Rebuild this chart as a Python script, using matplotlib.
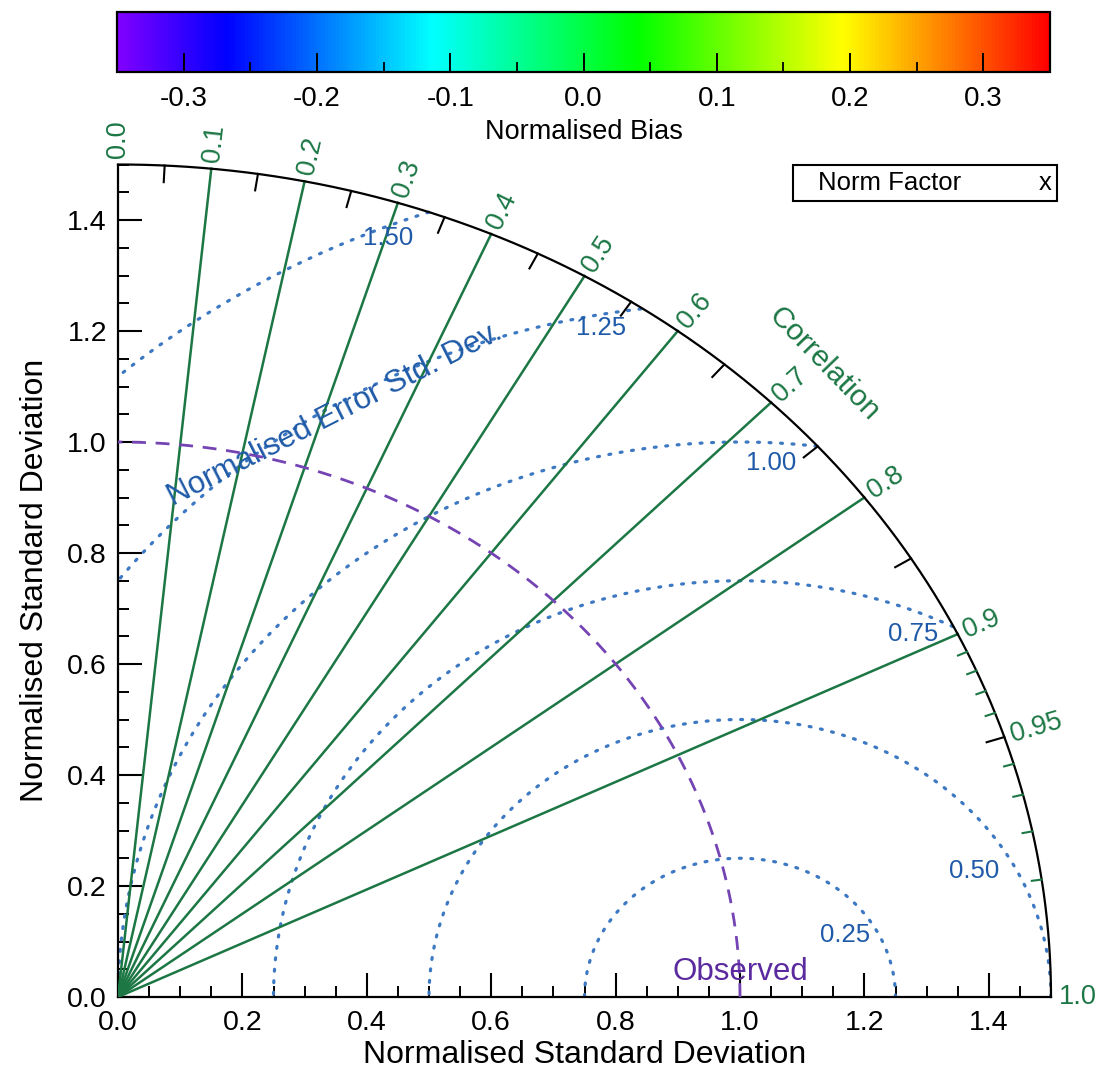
import numpy as np
import matplotlib
import matplotlib.pyplot as plt
from matplotlib.colors import LinearSegmentedColormap, Normalize
from matplotlib.patches import Rectangle
from matplotlib.ticker import MultipleLocator, FormatStrFormatter
import matplotlib.colorbar as mcolorbar

plt.rcParams['font.family'] = ['Liberation Sans', 'DejaVu Sans']

# diagram setup
std_max = 1.5
obs_std = 1.0
corr_lines = [0.1, 0.2, 0.3, 0.4, 0.5, 0.6, 0.7, 0.8, 0.9]
corr_labels = [0.0, 0.1, 0.2, 0.3, 0.4, 0.5, 0.6, 0.7, 0.8, 0.9, 0.95, 1.0]
corr_major_ticks = [0.05, 0.15, 0.25, 0.35, 0.45, 0.55, 0.65, 0.75, 0.85, 0.95]
corr_minor_ticks = [0.91, 0.92, 0.93, 0.94, 0.96, 0.97, 0.98, 0.99]
rms_levels = [0.25, 0.50, 0.75, 1.00, 1.25, 1.50]
rms_label_angles = [33.5, 31, 67, 87, 100.5, 112.5]   # degrees round the observed point
rms_label_insets = [0.047, 0.06, 0.039, 0.036, 0.024, 0.02]
bias_min, bias_max = -0.35, 0.35
bias_ticks = [-0.3, -0.2, -0.1, 0.0, 0.1, 0.2, 0.3]
bias_minor = [-0.25, -0.15, -0.05, 0.05, 0.15, 0.25]

green = '#1c7745'
blue_line = '#3d78c2'
blue_text = '#1f5aa8'
purple = '#7544b4'
purple_text = '#5a2a9e'

fig = plt.figure(figsize=(10.99, 10.81), dpi=100)
W, H = 1099, 1081

# ---- main diagram ----
ax = fig.add_axes([118 / W, 84 / H, 933 / W, 832.5 / H])
ax.set_xlim(0, std_max)
ax.set_ylim(0, std_max)
for s in ['top', 'right']:
    ax.spines[s].set_visible(False)
for s in ['left', 'bottom']:
    ax.spines[s].set_linewidth(1.6)
ax.xaxis.set_minor_locator(MultipleLocator(0.05))
ax.yaxis.set_minor_locator(MultipleLocator(0.05))
ax.xaxis.set_major_formatter(FormatStrFormatter('%.1f'))
ax.yaxis.set_major_formatter(FormatStrFormatter('%.1f'))
ax.tick_params(which='major', direction='in', length=17, width=1.5, labelsize=20.5)
ax.tick_params(which='minor', direction='in', length=8, width=1.4)
ax.tick_params(axis='x', which='major', pad=9)
ax.tick_params(axis='y', which='major', pad=8)
ax.set_xticks([0.0, 0.2, 0.4, 0.6, 0.8, 1.0, 1.2, 1.4])
ax.set_yticks([0.0, 0.2, 0.4, 0.6, 0.8, 1.0, 1.2, 1.4])
ax.set_xlabel('Normalised Standard Deviation', fontsize=23, labelpad=3)
ax.set_ylabel('Normalised Standard Deviation', fontsize=23, labelpad=12)

# outer arc
th = np.linspace(0, np.pi / 2, 400)
ax.plot(std_max * np.cos(th), std_max * np.sin(th), color='black', lw=1.6, clip_on=False, zorder=5)

# correlation rays
for c in corr_lines:
    s = np.sqrt(1 - c ** 2)
    ax.plot([0, std_max * c], [0, std_max * s], color=green, lw=1.8, zorder=3)

# ticks on the arc
for c in corr_major_ticks:
    s = np.sqrt(1 - c ** 2)
    ax.plot([std_max * c, (std_max - 0.03) * c], [std_max * s, (std_max - 0.03) * s],
            color='black', lw=1.5, clip_on=False, zorder=5)
for c in corr_minor_ticks:
    s = np.sqrt(1 - c ** 2)
    ax.plot([std_max * c, (std_max - 0.016) * c], [std_max * s, (std_max - 0.016) * s],
            color=green, lw=1.5, clip_on=False, zorder=5)

# correlation labels, rotated along the rays in screen space
fig.canvas.draw()
p0 = ax.transData.transform((0, 0))
for c in corr_labels:
    s = np.sqrt(max(1 - c ** 2, 0))
    p1 = ax.transData.transform((c, s))
    rot = np.degrees(np.arctan2(p1[1] - p0[1], p1[0] - p0[0]))
    r = std_max + 0.012
    txt = '%.2f' % c if c == 0.95 else '%.1f' % c
    ax.text(r * c, r * s, txt, color=green, fontsize=19.5, rotation=rot,
            rotation_mode='anchor', ha='left', va='center', clip_on=False)

ax.text(1.135, 1.14, 'Correlation', color=green, fontsize=21.5, rotation=-46,
        ha='center', va='center', rotation_mode='anchor')

# centred RMS difference circles
phi = np.linspace(0, np.pi, 800)
for r, ang, inset in zip(rms_levels, rms_label_angles, rms_label_insets):
    x = obs_std + r * np.cos(phi)
    y = r * np.sin(phi)
    keep = (x ** 2 + y ** 2 <= std_max ** 2) & (x >= 0)
    ax.plot(np.where(keep, x, np.nan), np.where(keep, y, np.nan), color=blue_line,
            lw=2.3, dashes=(0.6, 3.0), dash_capstyle='round', zorder=2)
    a = np.radians(ang)
    rr = r - inset
    ax.text(obs_std + rr * np.cos(a), rr * np.sin(a), '%.2f' % r, color=blue_text,
            fontsize=18.5, ha='center', va='center', zorder=4)

ax.text(0.349, 1.049, 'Normalised Error Std. Dev.', color=blue_text, fontsize=22.5,
        rotation=27, ha='center', va='center', rotation_mode='anchor')

# observed reference std
ax.plot(obs_std * np.cos(th), obs_std * np.sin(th), color=purple, lw=2, dashes=(5, 3.5), zorder=3)
ax.text(obs_std, 0.045, 'Observed', color=purple_text, fontsize=22.5, ha='center', va='center', zorder=6)

# norm factor box
ax.add_patch(Rectangle((1.085, 1.434), 0.425, 0.065, fill=False, edgecolor='black',
                       lw=1.5, clip_on=False, zorder=6))
ax.text(1.125, 1.4665, 'Norm Factor', fontsize=18.5, ha='left', va='center', clip_on=False)
ax.text(1.49, 1.4665, 'x', fontsize=18.5, ha='center', va='center', clip_on=False)

# ---- bias colour bar ----
cmap = LinearSegmentedColormap.from_list('bias', [
    (0.0, '#8000ff'), (0.116, '#0000ff'), (0.337, '#00ffff'),
    (0.558, '#00ff00'), (0.779, '#ffff00'), (1.0, '#ff0000')])
cax = fig.add_axes([117 / W, 1 - 72 / H, 933 / W, 60 / H])
cb = mcolorbar.ColorbarBase(cax, cmap=cmap, norm=Normalize(bias_min, bias_max),
                            orientation='horizontal')
cb.outline.set_linewidth(1.6)
cb.set_ticks(bias_ticks)
cb.ax.set_xticklabels(['%.1f' % t if t != 0 else '0.0' for t in bias_ticks])
cb.ax.xaxis.set_minor_locator(matplotlib.ticker.FixedLocator(bias_minor))
cax.tick_params(which='major', direction='in', length=14, width=1.4, labelsize=20, pad=10)
cax.tick_params(which='minor', direction='in', length=7, width=1.3)
cax.set_xlabel('Normalised Bias', fontsize=19.5, labelpad=5)

fig.savefig('out.png', dpi=100)
